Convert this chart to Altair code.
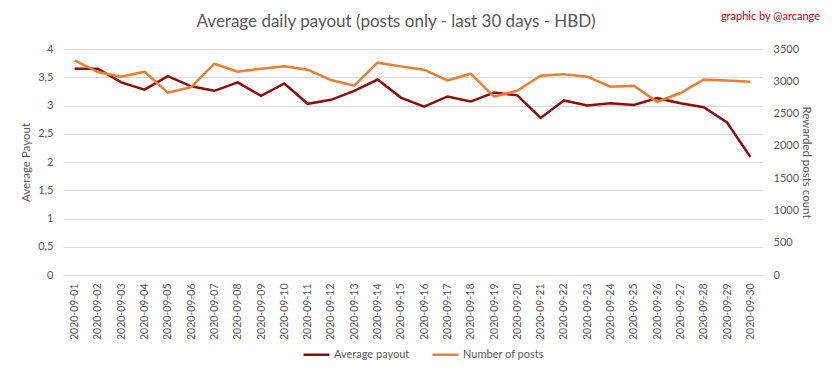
import altair as alt
import pandas as pd

dates = ["2020-09-01", "2020-09-02", "2020-09-03", "2020-09-04", "2020-09-05",
         "2020-09-06", "2020-09-07", "2020-09-08", "2020-09-09", "2020-09-10",
         "2020-09-11", "2020-09-12", "2020-09-13", "2020-09-14", "2020-09-15",
         "2020-09-16", "2020-09-17", "2020-09-18", "2020-09-19", "2020-09-20",
         "2020-09-21", "2020-09-22", "2020-09-23", "2020-09-24", "2020-09-25",
         "2020-09-26", "2020-09-27", "2020-09-28", "2020-09-29", "2020-09-30"]

avg_payout = [3.65, 3.65, 3.41, 3.28, 3.52, 3.34, 3.26, 3.41, 3.17, 3.39,
              3.03, 3.10, 3.26, 3.46, 3.14, 2.98, 3.16, 3.07, 3.23, 3.18,
              2.78, 3.09, 3.00, 3.04, 3.01, 3.13, 3.04, 2.97, 2.70, 2.09]

num_posts = [3324, 3143, 3071, 3148, 2823, 2911, 3272, 3148, 3195, 3231,
             3179, 3019, 2931, 3288, 3231, 3180, 3014, 3117, 2761, 2854,
             3086, 3107, 3071, 2916, 2931, 2683, 2818, 3029, 3014, 2993]

series_names = ["Average payout", "Number of posts"]
series_colors = ["#8E0C0C", "#ED7D31"]

title_text = ["Average daily payout (posts only - last 30 days - HBD)"]
credit_text = ["graphic by @arcange"]

df = pd.DataFrame({"date": dates, "avg": avg_payout, "posts": num_posts})

FONT = "Lato"
GRAY = "#595959"

x_enc = alt.X("date:O", scale=alt.Scale(type="point", padding=0.5),
              axis=alt.Axis(title=None, labelAngle=270, ticks=False, domain=True,
                            domainColor="#d9d9d9", labelPadding=8, labelFontSize=10.5,
                            labelColor=GRAY, labelFont=FONT))

color_scale = alt.Scale(domain=series_names, range=series_colors)

left = alt.Chart(df).mark_line(strokeWidth=2.5).encode(
    x=x_enc,
    y=alt.Y("avg:Q", scale=alt.Scale(domain=[0, 4], nice=False),
            axis=alt.Axis(title="Average Payout", values=[0, 0.5, 1, 1.5, 2, 2.5, 3, 3.5, 4],
                          labelExpr="replace(toString(datum.value), '.', ',')",
                          grid=True, gridColor="#d9d9d9", domain=False, ticks=False,
                          labelPadding=10, labelFontSize=11, labelColor=GRAY, labelFont=FONT,
                          titleFontSize=11.5, titleColor=GRAY, titleFont=FONT,
                          titleFontWeight="normal", titlePadding=6)),
    color=alt.Color("s:N", scale=color_scale,
                    legend=alt.Legend(title=None, orient="none", direction="horizontal",
                                      legendX=239, legendY=291, symbolType="stroke",
                                      symbolSize=676, symbolStrokeWidth=2.5,
                                      labelOffset=3, columnPadding=17, labelFontSize=11,
                                      labelColor=GRAY, labelFont=FONT)),
).transform_calculate(s="'Average payout'")

right = alt.Chart(df).mark_line(strokeWidth=2.5).encode(
    x=x_enc,
    y=alt.Y("posts:Q", scale=alt.Scale(domain=[0, 3500], nice=False),
            axis=alt.Axis(title="Rewarded posts count", orient="right", format="d",
                          values=[0, 500, 1000, 1500, 2000, 2500, 3000, 3500],
                          grid=False, domain=False, ticks=False, labelPadding=11,
                          labelFontSize=11, labelColor=GRAY, labelFont=FONT,
                          titleFontSize=11.5, titleColor=GRAY, titleFont=FONT,
                          titleFontWeight="normal", titlePadding=2)),
    color=alt.Color("s:N", scale=color_scale),
).transform_calculate(s="'Number of posts'")

title = alt.Chart(pd.DataFrame({"t": title_text})).mark_text(
    align="center", baseline="middle", color=GRAY, fontSize=17, font=FONT
).encode(text="t:N", x=alt.value(333), y=alt.value(-27))

credit = alt.Chart(pd.DataFrame({"t": credit_text})).mark_text(
    align="right", baseline="middle", color="#C00000", fontSize=11, font=FONT
).encode(text="t:N", x=alt.value(757), y=alt.value(-32))

chart = alt.layer(left, right, title, credit).resolve_scale(y="independent").properties(
    width=699, height=226,
    autosize=alt.AutoSizeParams(type="none"),
    padding={"left": 55, "top": 41, "right": 63, "bottom": 100},
    background="white",
).configure_view(stroke=None)

chart.save("out.html", embed_options={"renderer": "svg", "actions": False})
